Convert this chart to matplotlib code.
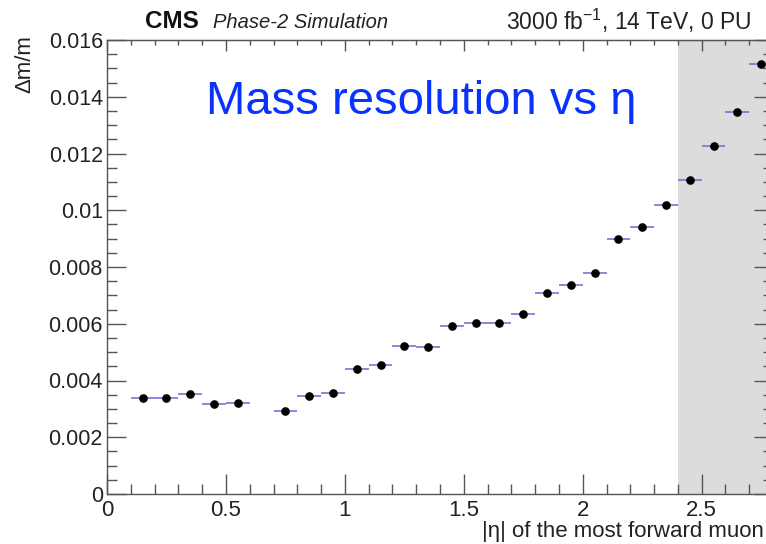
import numpy as np
import matplotlib
matplotlib.use("Agg")
import matplotlib.pyplot as plt
from matplotlib.ticker import MultipleLocator, NullFormatter

plt.rcParams['font.family'] = ['Liberation Sans', 'DejaVu Sans']

# Data: bin centres of |eta| (width 0.1) and mass resolution
eta = [0.15, 0.25, 0.35, 0.45, 0.55, 0.75, 0.85, 0.95, 1.05, 1.15, 1.25, 1.35,
       1.45, 1.55, 1.65, 1.75, 1.85, 1.95, 2.05, 2.15, 2.25, 2.35, 2.45, 2.55,
       2.65, 2.75]
res = [0.00340, 0.00337, 0.00352, 0.00316, 0.00320, 0.00291, 0.00345, 0.00355,
       0.00440, 0.00453, 0.00522, 0.00519, 0.00593, 0.00601, 0.00601, 0.00633,
       0.00710, 0.00736, 0.00778, 0.00899, 0.00941, 0.01017, 0.01107, 0.01228,
       0.01346, 0.01517]
res_err = [0.00006, 0.00006, 0.00006, 0.00006, 0.00006, 0.00006, 0.00006, 0.00006,
           0.00012, 0.00006, 0.00008, 0.00006, 0.00006, 0.00006, 0.00006, 0.00006,
           0.00006, 0.00006, 0.00006, 0.00006, 0.00006, 0.00006, 0.00006, 0.00006,
           0.00006, 0.00008]
bin_half = 0.05
band = (2.4, 2.8)

W, H = 766, 544
fig = plt.figure(figsize=(W / 100, H / 100), dpi=100)
ax = fig.add_axes([107 / W, 50 / H, (773 - 107) / W, (494 - 40) / H])

ax.axvspan(band[0], band[1], color='#dcdcdc', lw=0, zorder=0)

ax.errorbar(eta, res, xerr=bin_half, yerr=res_err, fmt='none',
            ecolor='#6a6ad0', elinewidth=1.1, capsize=0, zorder=2)
ax.plot(eta, res, 'o', color='black', ms=5.2, zorder=3)

ax.set_xlim(0, 2.8)
ax.set_ylim(0, 0.016)

axis_col = '#555555'
for s in ax.spines.values():
    s.set_color(axis_col)
    s.set_linewidth(1.0)

ax.xaxis.set_major_locator(MultipleLocator(0.5))
ax.xaxis.set_minor_locator(MultipleLocator(0.1))
ax.yaxis.set_major_locator(MultipleLocator(0.002))
ax.yaxis.set_minor_locator(MultipleLocator(0.0005))
ax.yaxis.set_major_formatter(matplotlib.ticker.FuncFormatter(
    lambda v, p: '0' if v == 0 else ('%g' % v)))
ax.xaxis.set_major_formatter(matplotlib.ticker.FuncFormatter(
    lambda v, p: '%g' % v))

ax.tick_params(axis='both', which='both', direction='in', color=axis_col,
               labelcolor='#222222')
ax.tick_params(axis='x', which='major', length=14.5, width=1.0, pad=4,
               labelsize=16, bottom=True, top=False)
ax.tick_params(axis='x', which='minor', length=7.2, width=1.0, bottom=True, top=False)
ax.tick_params(axis='y', which='major', length=14, width=1.0, pad=3,
               labelsize=15.5, left=True, right=True)
ax.tick_params(axis='y', which='minor', length=7.2, width=1.0, left=True, right=True)

sec = ax.secondary_xaxis('top')
sec.xaxis.set_major_locator(MultipleLocator(0.5))
sec.xaxis.set_minor_locator(MultipleLocator(0.1))
sec.xaxis.set_major_formatter(NullFormatter())
sec.tick_params(which='major', direction='in', length=8, width=1.0, color=axis_col)
sec.tick_params(which='minor', direction='in', length=3.5, width=1.0, color=axis_col)
sec.spines['top'].set_color(axis_col)

# Labels
fig.text(764 / W, 1 - 531 / H, '|η| of the most forward muon', fontsize=16,
         ha='right', va='center', color='#222222')
ax.set_ylabel('Δm/m', fontsize=16, ha='right', color='#222222')
ax.yaxis.set_label_coords(-0.108, 1.01)

# Header texts
fig.text(145 / W, 1 - 21 / H, 'CMS', fontsize=17.5, fontweight='bold', va='center',
         color='#111111')
fig.text(213 / W, 1 - 23 / H, 'Phase-2 Simulation', fontsize=14.5, style='italic',
         va='center', color='#222222')
fig.text(506 / W, 1 - 21 / H, '3000 fb$^{\\mathregular{-1}}$, 14 TeV, 0 PU', fontsize=16.5,
         va='center', color='#222222')

fig.text(206 / W, 1 - 102 / H, 'Mass resolution vs η',
         fontsize=34, color='#0a32ff', va='center', ha='left')

fig.savefig('out.png', dpi=100)
